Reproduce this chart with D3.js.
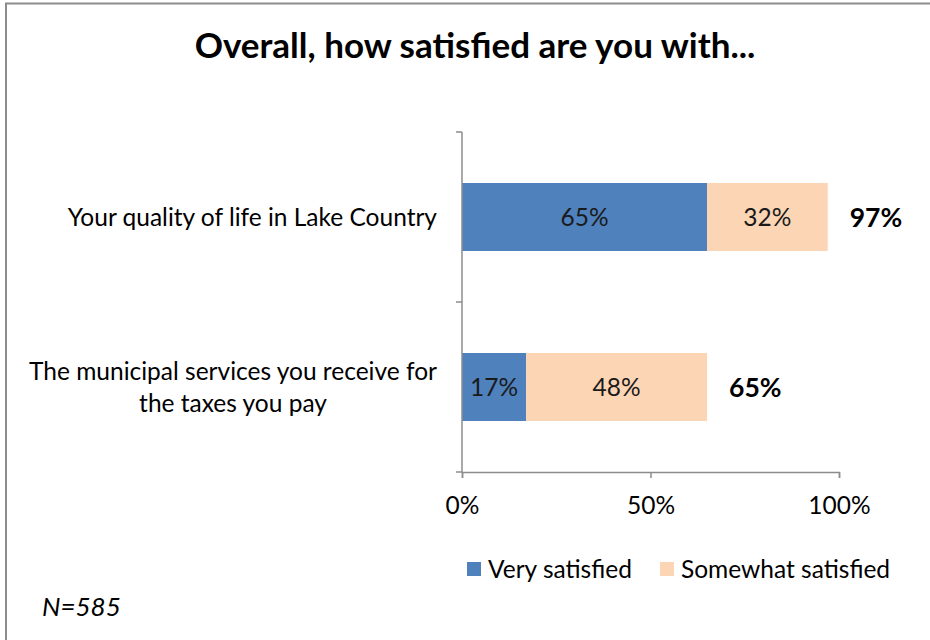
<!DOCTYPE html>
<html>
<head>
<meta charset="utf-8">
<script src="https://cdn.jsdelivr.net/npm/d3@7"></script>
<style>
  html, body { margin: 0; padding: 0; background: #fff; }
  svg { display: block; font-family: Lato, "Open Sans", sans-serif; }
</style>
</head>
<body>
<svg id="chart" width="930" height="640"></svg>
<script>
// Survey results: share of respondents satisfied, by item
const categories = [
  "Your quality of life in Lake Country",
  "The municipal services you receive for the taxes you pay"
];
const categoryLines = [
  ["Your quality of life in Lake Country"],
  ["The municipal services you receive for", "the taxes you pay"]
];
const seriesNames = ["Very satisfied", "Somewhat satisfied"];
const verySatisfied = [65, 17];
const somewhatSatisfied = [32, 48];
const totals = [97, 65];
const xTicks = [0, 50, 100];
const colors = ["#4F81BD", "#FCD5B5"];

const svg = d3.select("#chart");
const W = 930, H = 640;
const axisColor = "#8c8c8c";

// outer frame
svg.append("rect")
  .attr("x", 6).attr("y", 3.5)
  .attr("width", W + 10).attr("height", H + 10)
  .attr("fill", "#fff").attr("stroke", axisColor).attr("stroke-width", 2);

// title
svg.append("text")
  .attr("x", 475).attr("y", 58)
  .attr("text-anchor", "middle")
  .attr("font-size", 35).attr("font-weight", "bold")
  .attr("fill", "#000")
  .text("Overall, how satisfied are you with...");

const plot = { left: 462, right: 839, top: 132, bottom: 472 };

const x = d3.scaleLinear().domain([0, 100]).range([plot.left, plot.right]);
const y = d3.scaleBand().domain(categories).range([plot.top, plot.bottom]).paddingInner(0.6).paddingOuter(0.3);

const stacked = d3.stack().keys([0, 1])(categories.map((c, i) => ({ 0: verySatisfied[i], 1: somewhatSatisfied[i], cat: c })));

// bars with in-bar value labels
stacked.forEach((layer, k) => {
  svg.append("g").selectAll("rect")
    .data(layer)
    .join("rect")
    .attr("x", d => x(d[0]))
    .attr("y", d => y(d.data.cat))
    .attr("width", d => x(d[1]) - x(d[0]))
    .attr("height", y.bandwidth())
    .attr("fill", colors[k]);

  svg.append("g").selectAll("text")
    .data(layer)
    .join("text")
    .attr("x", d => (x(d[0]) + x(d[1])) / 2)
    .attr("y", d => y(d.data.cat) + y.bandwidth() / 2)
    .attr("dy", "0.36em")
    .attr("text-anchor", "middle")
    .attr("font-size", 24.5)
    .attr("fill", "#1a1a1a")
    .text(d => (d[1] - d[0]) + "%");
});

// totals beside each bar
svg.append("g").selectAll("text")
  .data(categories)
  .join("text")
  .attr("x", (d, i) => x(totals[i]) + 22)
  .attr("y", d => y(d) + y.bandwidth() / 2)
  .attr("dy", "0.36em")
  .attr("font-size", 26.5).attr("font-weight", "bold")
  .attr("fill", "#000")
  .text((d, i) => totals[i] + "%");

// y axis with ticks between categories
const yAxisG = svg.append("g").attr("transform", `translate(${plot.left},0)`);
const yEdges = [plot.top, (plot.top + plot.bottom) / 2, plot.bottom];
yAxisG.append("line").attr("x1", 0).attr("x2", 0).attr("y1", plot.top).attr("y2", plot.bottom)
  .attr("stroke", axisColor).attr("stroke-width", 1.5);
yAxisG.selectAll("line.tick").data(yEdges).join("line").attr("class", "tick")
  .attr("x1", -6).attr("x2", 0).attr("y1", d => d).attr("y2", d => d)
  .attr("stroke", axisColor).attr("stroke-width", 1.5);

// category labels, lines centred within a right-aligned block
categories.forEach((c, i) => {
  const lines = categoryLines[i];
  const cy = y(c) + y.bandwidth() / 2;
  const lh = 32;
  const t = svg.append("text")
    .attr("class", "cat-label")
    .attr("text-anchor", "middle")
    .attr("font-size", 24.5).attr("fill", "#000");
  lines.forEach((ln, j) => {
    t.append("tspan")
      .attr("y", cy + (j - (lines.length - 1) / 2) * lh)
      .attr("dy", "0.36em")
      .text(ln);
  });
  const spans = t.selectAll("tspan").nodes();
  const maxW = d3.max(spans, s => s.getComputedTextLength());
  spans.forEach(s => s.setAttribute("x", 437 - maxW / 2));
});

// x axis
const xAxis = d3.axisBottom(x).tickValues(xTicks).tickSize(6).tickFormat(d => d + "%");
const xAxisG = svg.append("g").attr("transform", `translate(0,${plot.bottom})`).call(xAxis);
xAxisG.select(".domain").attr("stroke", axisColor).attr("stroke-width", 1.5);
xAxisG.selectAll(".tick line").attr("stroke", axisColor).attr("stroke-width", 1.5);
xAxisG.selectAll(".tick text").attr("font-size", 24.5).attr("font-family", "Lato, sans-serif")
  .attr("fill", "#000").attr("y", 25);

// legend
const legend = svg.append("g");
const legendItems = [{ name: seriesNames[0], x: 467 }, { name: seriesNames[1], x: 660 }];
legendItems.forEach((it, i) => {
  legend.append("rect").attr("x", it.x).attr("y", 562).attr("width", 14).attr("height", 14).attr("fill", colors[i]);
  legend.append("text").attr("x", it.x + 21).attr("y", 569).attr("dy", "0.36em")
    .attr("font-size", 24.5).attr("fill", "#000").text(it.name);
});

// sample size note
svg.append("text")
  .attr("x", 42).attr("y", 607).attr("dy", "0.36em")
  .attr("font-size", 26).attr("font-style", "italic").attr("fill", "#000")
  .text("N=585");
</script>
</body>
</html>
